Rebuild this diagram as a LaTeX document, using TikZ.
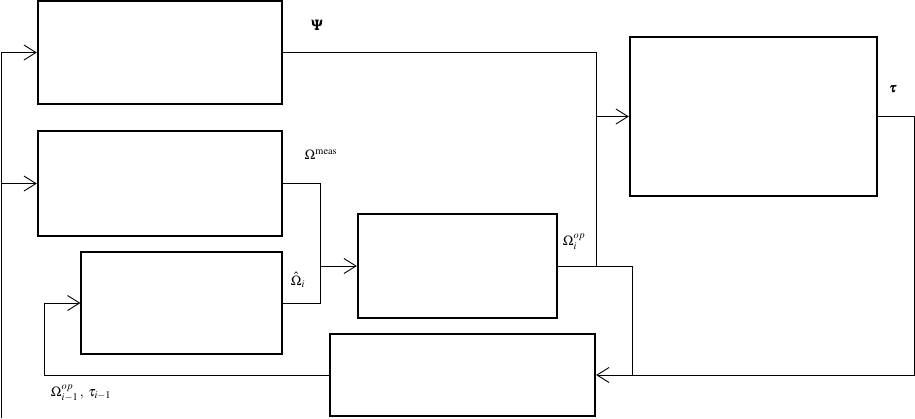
\documentclass[tikz,border=0pt]{standalone}
\usepackage{mathptmx}
\usepackage{bm}
\usetikzlibrary{arrows.meta}
\tikzset{
  thickbox/.style={draw, line width=2.4pt, rectangle, inner sep=0pt},
  thinbox/.style={draw, line width=1.2pt, rectangle, inner sep=0pt},
  wire/.style={line width=0.9pt},
  arr/.style={wire, -{Straight Barb[length=12pt,width=15pt]}},
  lbl/.style={inner sep=0pt, font=\fontsize{14}{16}\selectfont}
}
\begin{document}
\begin{tikzpicture}[x=1pt,y=-1pt]
\useasboundingbox (0,0) rectangle (915,418);
% boxes
\node[thickbox, minimum width=244pt, minimum height=103pt] (A) at (160,52.5) {};
\node[thickbox, minimum width=244pt, minimum height=105pt] (B) at (160,183.5) {};
\node[thinbox,  minimum width=201pt, minimum height=102pt] (C) at (181.5,303) {};
\node[thickbox, minimum width=199pt, minimum height=104pt] (D) at (457.5,266) {};
\node[thickbox, minimum width=247pt, minimum height=159pt] (E) at (753.5,116.5) {};
\node[thickbox, minimum width=265pt, minimum height=82pt]  (F) at (462.5,375) {};
% coordinates
\coordinate (busBot) at (1,418);
\coordinate (busB) at (1,183.5);
\coordinate (m1) at (596,116.5);
\coordinate (m2) at (596,266);
\coordinate (j2) at (632,266);
\coordinate (j3) at (632,375);
\coordinate (cR) at (914,375);
\coordinate (sJ) at (320,266);
\coordinate (fb) at (44,375);
% connectors
\draw[arr] (busBot) |- (A.west);
\draw[arr] (busB) -- (B.west);
\draw[wire] (A.east) -| (m2);
\draw[arr] (m1) -- (E.west);
\draw[wire] (D.east) -- (j2) -- (j3);
\draw[arr] (E.east) -| (cR) -- (F.east);
\draw[wire] (B.east) -| (sJ);
\draw[wire] (C.east) -| (sJ);
\draw[arr] (sJ) -- (D.west);
\draw[arr] (F.west) -- (fb) |- (C.west);
% labels
\node[lbl] (lpsi) at (317,25) {$\bm{\Psi}$};
\node[lbl] (lmeas) at (321,155) {$\Omega^{\mathrm{meas}}$};
\node[lbl] (lhat) at (298,280) {$\hat{\Omega}_i$};
\node[lbl] (lop) at (574,242) {$\Omega_i^{op}$};
\node[lbl] (ltau) at (893,89) {$\bm{\tau}$};
\node[lbl] (lfb) at (81,393) {$\Omega^{op}_{i-1}\,,\;\tau_{i-1}$};
\end{tikzpicture}
\end{document}
